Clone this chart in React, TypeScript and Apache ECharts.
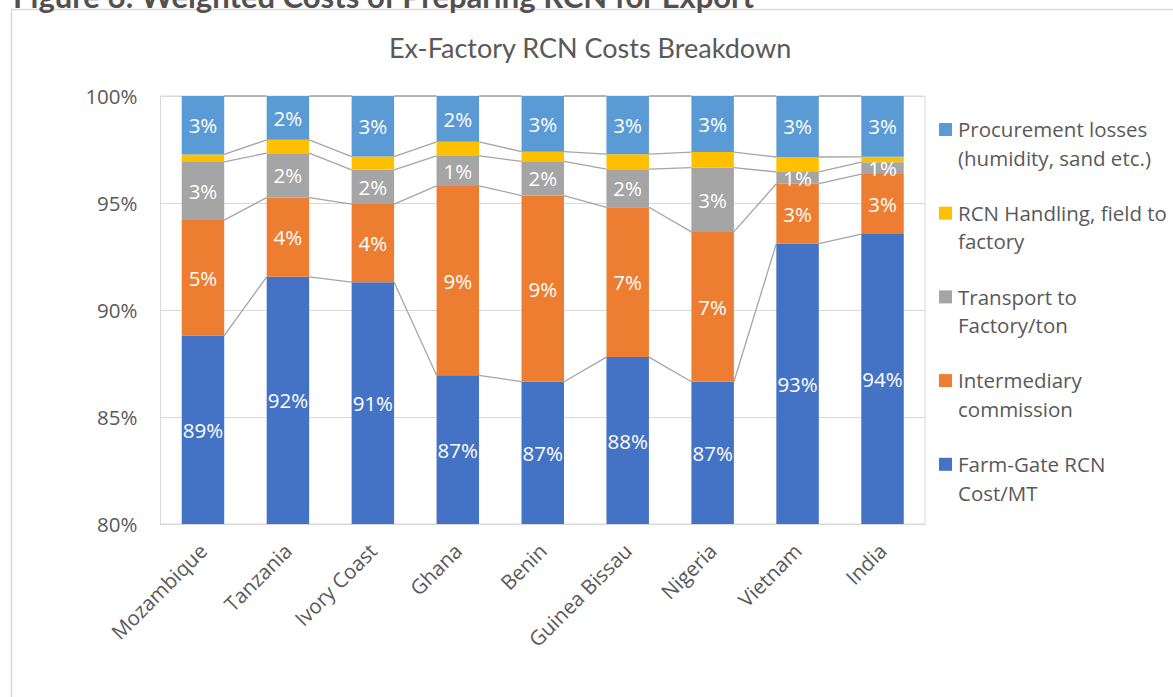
import React, { useEffect, useRef } from "react";
import * as echarts from "echarts";

const categories = ["Mozambique", "Tanzania", "Ivory Coast", "Ghana", "Benin", "Guinea Bissau", "Nigeria", "Vietnam", "India"];

const seriesNames = [
  "Farm-Gate RCN Cost/MT",
  "Intermediary commission",
  "Transport to Factory/ton",
  "RCN Handling, field to factory",
  "Procurement losses (humidity, sand etc.)",
];
const legendLabels = [
  "Farm-Gate RCN\nCost/MT",
  "Intermediary\ncommission",
  "Transport to\nFactory/ton",
  "RCN Handling, field to\nfactory",
  "Procurement losses\n(humidity, sand etc.)",
];
const seriesColors = ["#4472C4", "#ED7D31", "#A5A5A5", "#FFC000", "#5B9BD5"];

const farmGate = [88.8, 91.55, 91.3, 86.95, 86.65, 87.8, 86.65, 93.1, 93.55];
const intermediary = [5.4, 3.7, 3.65, 8.85, 8.7, 7.0, 7.0, 2.8, 2.8];
const transport = [2.72, 2.08, 1.6, 1.4, 1.6, 1.78, 3.0, 0.55, 0.56];
const handling = [0.35, 0.62, 0.62, 0.66, 0.45, 0.7, 0.73, 0.7, 0.25];
const procurement = [2.73, 2.05, 2.83, 2.14, 2.6, 2.72, 2.62, 2.85, 2.84];

const yTicks = { min: 80, max: 100, interval: 5 };
const labelledSeries = [true, true, true, false, true];

const chartTitle = "Ex-Factory RCN Costs Breakdown";
const figureCaption = "Figure 6: Weighted Costs of Preparing RCN for Export";

const FONT = "'Open Sans', sans-serif";
const TEXT = "#595959";
const FS = 20.5;

export default function App() {
  const ref = useRef<HTMLDivElement>(null);
  useEffect(() => {
    if (!ref.current) return;
    const chart = echarts.init(ref.current, undefined, { renderer: "svg" });
    const values = [farmGate, intermediary, transport, handling, procurement];
    const cum: number[][] = [];
    values.forEach((v, k) => {
      cum.push(v.map((x, i) => (k === 0 ? x : cum[k - 1][i] + x)));
    });

    const barSeries = values.map((v, k) => ({
      type: "bar",
      name: seriesNames[k],
      stack: "total",
      barWidth: "50%",
      data: v,
      itemStyle: { color: seriesColors[k] },
      label: {
        show: labelledSeries[k],
        position: "inside",
        color: "#ffffff",
        fontSize: FS,
        fontFamily: FONT,
        formatter: (p: any) => Math.round(p.value) + "%",
      },
      z: 3,
    }));

    const linesSeries = {
      type: "custom",
      silent: true,
      clip: false,
      z: 2,
      data: categories.slice(0, -1).map((_, i) => [i, 100]),
      encode: { x: 0, y: 1 },
      renderItem: (params: any, api: any) => {
        const i = api.value(0) as number;
        const bw = api.size([1, 0])[0] * 0.5;
        const children = cum.map((c) => {
          const p1 = api.coord([i, c[i]]);
          const p2 = api.coord([i + 1, c[i + 1]]);
          return {
            type: "line",
            shape: { x1: p1[0] + bw / 2, y1: p1[1], x2: p2[0] - bw / 2, y2: p2[1] },
            style: { stroke: "#a5a5a5", lineWidth: 1.3 },
          };
        });
        return { type: "group", children };
      },
    };

    const legendGraphics: any[] = [];
    for (let j = 0; j < 5; j++) {
      const k = 4 - j;
      const top = 123 + j * 83.7;
      legendGraphics.push({
        type: "rect",
        left: 939,
        top: top,
        shape: { x: 0, y: 0, width: 13, height: 13 },
        style: { fill: seriesColors[k] },
      });
      legendGraphics.push({
        type: "text",
        x: 958,
        y: top - 8,
        style: {
          text: legendLabels[k],
          fill: TEXT,
          font: `${FS}px ${FONT}`,
          lineHeight: 28.5,
          verticalAlign: "top",
        },
      });
    }

    chart.setOption({
      animation: false,
      backgroundColor: "#ffffff",
      title: {
        text: chartTitle,
        left: 384,
        top: 29,
        textStyle: { color: TEXT, fontSize: 27, fontWeight: "normal", fontFamily: "Lato, sans-serif" },
      },
      grid: {
        left: 160.5,
        right: 248,
        top: 96,
        bottom: 173,
        show: true,
        borderColor: "#d9d9d9",
        borderWidth: 1,
      },
      xAxis: {
        type: "category",
        data: categories,
        axisTick: { show: false },
        axisLine: { lineStyle: { color: "#d9d9d9" } },
        axisLabel: { rotate: 45, color: TEXT, fontSize: FS, fontFamily: FONT, margin: 23, interval: 0 },
      },
      yAxis: {
        type: "value",
        min: yTicks.min,
        max: yTicks.max,
        interval: yTicks.interval,
        axisLine: { show: false },
        axisTick: { show: false },
        splitLine: { lineStyle: { color: "#d9d9d9" } },
        axisLabel: { color: TEXT, fontSize: FS, fontFamily: FONT, margin: 23, formatter: "{value}%" },
      },
      series: [...barSeries, linesSeries],
      graphic: [
        {
          type: "rect",
          shape: { x: 11.5, y: 9.5, width: 1300, height: 800 },
          style: { fill: "none", stroke: "#d9d9d9", lineWidth: 1.5 },
          silent: true,
        },
        {
          type: "text",
          x: 13,
          y: -20,
          style: {
            text: figureCaption,
            fill: "#555050",
            font: `bold 31px Lato, sans-serif`,
            verticalAlign: "top",
          },
        },
        ...legendGraphics,
      ],
    });
    return () => chart.dispose();
  }, []);
  return <div ref={ref} style={{ position: "fixed", left: 0, top: 0, width: 1173, height: 697 }} />;
}
